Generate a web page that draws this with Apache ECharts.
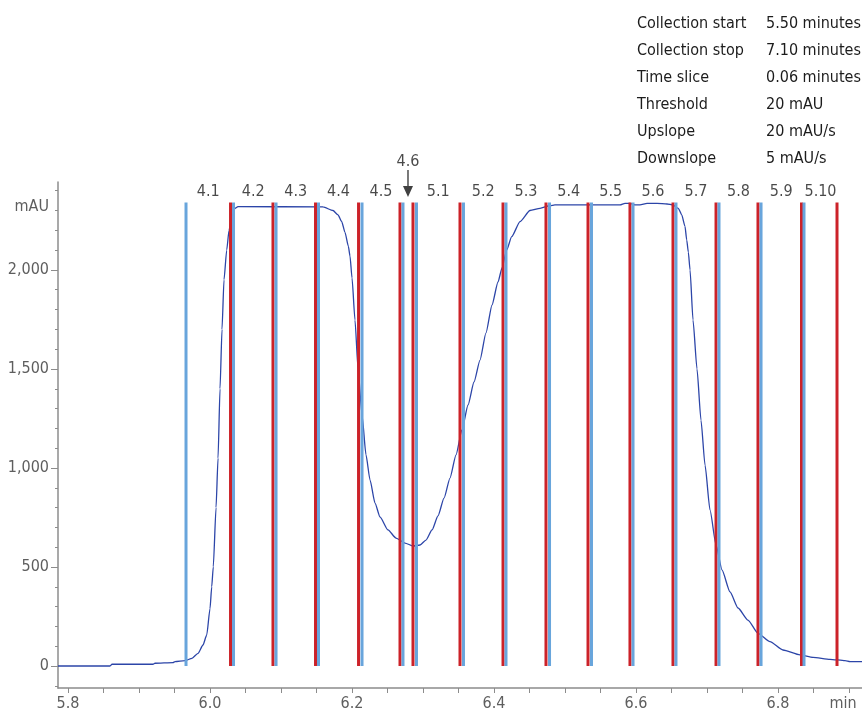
<!DOCTYPE html>
<html>
<head>
<meta charset="utf-8">
<script src="https://cdn.jsdelivr.net/npm/echarts@6/dist/echarts.min.js"></script>
<style>
  html, body { margin: 0; padding: 0; background: #fff; }
  #chart { width: 862px; height: 713px; }
</style>
</head>
<body>
<div id="chart"></div>
<script>
// Chromatogram trace: retention time (min) and absorbance (mAU)
const timeMin = [
  5.7859, 5.8592, 5.8620, 5.9197, 5.9225, 5.9479, 5.9507, 5.9648, 5.9746, 5.9831,
  5.9901, 5.9954, 6.0000, 6.0024, 6.0046, 6.0085, 6.0113, 6.0141, 6.0169, 6.0197,
  6.0235, 6.0268, 6.0306, 6.0352, 6.0394, 6.1592, 6.1732, 6.1803, 6.1855, 6.1901,
  6.1948, 6.1972, 6.2000, 6.2042, 6.2085, 6.2141, 6.2197, 6.2254, 6.2324, 6.2394,
  6.2507, 6.2620, 6.2746, 6.2859, 6.2958, 6.3042, 6.3127, 6.3211, 6.3296, 6.3380,
  6.3465, 6.3549, 6.3634, 6.3718, 6.3803, 6.3887, 6.3972, 6.4056, 6.4113, 6.4179,
  6.4249, 6.4366, 6.4507, 6.4648, 6.4789, 6.4859, 6.5775, 6.5845, 6.5915, 6.5986,
  6.6056, 6.6155, 6.6296, 6.6437, 6.6521, 6.6596, 6.6644, 6.6690, 6.6714, 6.6737,
  6.6761, 6.6803, 6.6859, 6.6915, 6.6972, 6.7042, 6.7127, 6.7211, 6.7324, 6.7437,
  6.7577, 6.7718, 6.7887, 6.8070, 6.8310, 6.8493, 6.8732, 6.8944, 6.9014, 6.9183
];
const absorbance = [
  0, 0, 9, 9, 14, 17, 22, 27, 39, 64,
  106, 157, 290, 400, 501, 800, 1050, 1400, 1700, 1950,
  2100, 2200, 2270, 2311, 2320, 2318, 2300, 2278, 2244, 2190,
  2120, 2070, 1960, 1747, 1500, 1268, 1066, 939, 823, 753,
  687, 646, 621, 606, 611, 636, 687, 758, 848, 949,
  1066, 1192, 1318, 1434, 1545, 1682, 1823, 1939, 2010, 2101,
  2168, 2244, 2300, 2311, 2325, 2328, 2328, 2336, 2336, 2328,
  2328, 2336, 2336, 2333, 2328, 2311, 2278, 2220, 2152, 2090,
  2000, 1747, 1500, 1242, 1015, 788, 611, 485, 374, 293,
  232, 165, 123, 81, 56, 44, 34, 27, 22, 22
];

// Fraction collection windows (min)
const fractionStart = [5.9662, 6.0331, 6.0930, 6.1528, 6.2141, 6.2718, 6.2908, 6.3570,
                       6.4169, 6.4782, 6.5373, 6.5958, 6.6563, 6.7169, 6.7761, 6.8366];
const fractionEnd   = [6.0289, 6.0887, 6.1486, 6.2092, 6.2676, 6.2859, 6.3521, 6.4127,
                       6.4732, 6.5324, 6.5915, 6.6521, 6.7127, 6.7718, 6.8331, 6.8831];
const fractionLabels = ['4.1', '4.2', '4.3', '4.4', '4.5', '4.6', '5.1', '5.2',
                        '5.3', '5.4', '5.5', '5.6', '5.7', '5.8', '5.9', '5.10'];
const markedFraction = '4.6';

// Axis ticks and labels
const xLabelValues = [5.8, 6.0, 6.2, 6.4, 6.6, 6.8, 6.9];
const xUnitLabel = 'min';
const yLabelValues = [0, 500, 1000, 1500, 2000];
const yUnitLabel = 'mAU';
const yUnitLevel = 2318;

// Collection parameters
const paramNames  = ['Collection start', 'Collection stop', 'Time slice', 'Threshold', 'Upslope', 'Downslope'];
const paramValues = ['5.50 minutes', '7.10 minutes', '0.06 minutes', '20 mAU', '20 mAU/s', '5 mAU/s'];

const FONT = '"Liberation Sans Narrow", "DejaVu Sans Condensed", Roboto, sans-serif';
const LINE_TOP = 2340;
const RED = '#cc2229';
const BLUE = '#68a5dc';
const AXIS_GRAY = '#8c8c8c';
const LABEL_GRAY = '#5e5e5e';
const TEXT_DARK = '#1c1c1c';

const xMinorTicks = [];
for (let k = 0; k <= 22; k++) xMinorTicks.push(+(5.8 + 0.05 * k).toFixed(2));
const yMinorTicks = [];
for (let k = -1; k <= 24; k++) yMinorTicks.push(k * 100);

const fmtThousands = v => String(v).replace(/\B(?=(\d{3})+(?!\d))/g, ',');

function fractionLineSeries(times, color) {
  return {
    type: 'custom',
    z: 4,
    silent: true,
    data: times.map(t => [t]),
    renderItem: function (params, api) {
      const t = api.value(0);
      const p0 = api.coord([t, 0]);
      const p1 = api.coord([t, LINE_TOP]);
      return {
        type: 'line',
        shape: { x1: p0[0], y1: p0[1], x2: p1[0], y2: p1[1] },
        style: { stroke: color, lineWidth: 3 }
      };
    }
  };
}

const labelData = fractionLabels.map((name, i) => {
  const mid = (fractionStart[i] + fractionEnd[i]) / 2;
  const item = { value: [mid, LINE_TOP], name: name };
  if (name === markedFraction) {
    item.symbol = 'path://M4.3,0 L5.7,0 L5.7,16 L10,16 L5,27 L0,16 L4.3,16 Z';
    item.symbolSize = [10, 27];
    item.symbolOffset = [0, -19];
    item.itemStyle = { color: '#111' };
    item.label = { distance: 0 };
  }
  return item;
});

const graphics = [];
paramNames.forEach((n, i) => {
  const y = 23.5 + 27 * i;
  graphics.push({ type: 'text', x: 637, y: y,
    style: { text: n, font: '16px ' + FONT, fill: TEXT_DARK, verticalAlign: 'middle', align: 'left' } });
  graphics.push({ type: 'text', x: 766, y: y,
    style: { text: paramValues[i], font: '16px ' + FONT, fill: TEXT_DARK, verticalAlign: 'middle', align: 'left' } });
});

const chart = echarts.init(document.getElementById('chart'), null, { renderer: 'canvas' });
chart.setOption({
  animation: false,
  backgroundColor: '#fff',
  grid: { left: 58, right: 0, top: 182, bottom: 25, containLabel: false, outerBoundsMode: 'none' },
  xAxis: {
    type: 'value',
    min: 5.7859,
    max: 6.9183,
    axisLine: { show: true, onZero: false, lineStyle: { color: AXIS_GRAY, width: 1.5 } },
    axisTick: { show: true, customValues: xMinorTicks, length: 5, lineStyle: { color: AXIS_GRAY, width: 1 } },
    axisLabel: {
      customValues: xLabelValues,
      margin: 8,
      color: LABEL_GRAY,
      fontFamily: FONT,
      fontSize: 16,
      formatter: v => (Math.abs(v - 6.9) < 1e-6 ? '{u|' + xUnitLabel + '}' : v.toFixed(1)),
      rich: { u: { color: LABEL_GRAY, fontFamily: FONT, fontSize: 16, padding: [0, 12, 0, 0] } }
    },
    splitLine: { show: false }
  },
  yAxis: [
    {
      type: 'value',
      position: 'left',
      min: -111,
      max: 2444,
      axisLine: { show: true, lineStyle: { color: AXIS_GRAY, width: 1.5 } },
      axisTick: { show: true, customValues: yLabelValues, length: 7, lineStyle: { color: AXIS_GRAY, width: 1 } },
      axisLabel: {
        customValues: yLabelValues.concat([yUnitLevel]),
        margin: 9,
        color: LABEL_GRAY,
        fontFamily: FONT,
        fontSize: 16,
        formatter: v => (v === yUnitLevel ? yUnitLabel : fmtThousands(v))
      },
      splitLine: { show: false }
    },
    {
      type: 'value',
      position: 'left',
      min: -111,
      max: 2444,
      axisLine: { show: false },
      axisTick: { show: true, customValues: yMinorTicks, length: 3, lineStyle: { color: AXIS_GRAY, width: 1 } },
      axisLabel: { show: false },
      splitLine: { show: false }
    }
  ],
  graphic: graphics,
  series: [
    {
      type: 'line',
      z: 3,
      data: timeMin.map((t, i) => [t, absorbance[i]]),
      showSymbol: false,
      smooth: 0.2,
      smoothMonotone: 'x',
      lineStyle: { color: '#2c45a8', width: 1.3 },
      silent: true
    },
    fractionLineSeries(fractionEnd, RED),
    fractionLineSeries(fractionStart, BLUE),
    {
      type: 'scatter',
      z: 5,
      silent: true,
      symbolSize: 0,
      data: labelData,
      label: {
        show: true,
        position: 'top',
        distance: 3,
        color: TEXT_DARK,
        fontFamily: FONT,
        fontSize: 16,
        formatter: p => p.name
      }
    }
  ]
});
</script>
</body>
</html>
